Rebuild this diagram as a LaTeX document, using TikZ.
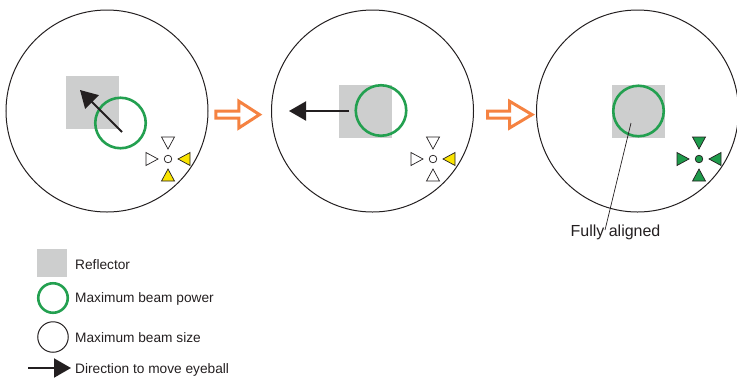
\documentclass[tikz,border=0pt]{standalone}
\usepackage{fontspec}
\setmainfont{Liberation Sans}
\usetikzlibrary{arrows.meta}
\definecolor{refl}{RGB}{205,206,206}
\definecolor{beam}{RGB}{35,160,80}
\definecolor{yel}{RGB}{250,228,0}
\definecolor{okg}{RGB}{30,155,75}
\definecolor{orng}{RGB}{245,130,65}
\definecolor{ink}{RGB}{35,31,32}
\newcommand\indicator[7]{%
  \begin{scope}[shift={(#1,#2)}]
    \draw[tri,fill=#3] (0,-10) -- (-6.5,-22) -- (6.5,-22) -- cycle;
    \draw[tri,fill=#4] (-10,0) -- (-22,-6.5) -- (-22,6.5) -- cycle;
    \draw[tri,fill=#5] (10,0) -- (22,-6.5) -- (22,6.5) -- cycle;
    \draw[tri,fill=#6] (0,10) -- (-6.5,22) -- (6.5,22) -- cycle;
    \draw[tri,fill=#7] (0,0) circle (3.8);
  \end{scope}}
\begin{document}
\begin{tikzpicture}[x=1bp,y=-1bp,
  bigc/.style={circle,draw=ink,line width=1bp,minimum size=202bp,inner sep=0},
  reflbox/.style={fill=refl,minimum size=53bp,inner sep=0},
  beamc/.style={circle,draw=beam,line width=2.6bp,minimum size=50.5bp,inner sep=0},
  move/.style={draw=ink,line width=2bp,-{Triangle[length=17bp,width=19bp]}},
  lbl/.style={text=ink,font=\fontsize{13.7bp}{16bp}\selectfont,anchor=west,inner sep=0},
  hollow/.style={draw=orng,line width=3bp,fill=white,line join=miter},
  tri/.style={draw=ink,line width=0.7bp}
]
\useasboundingbox (0,0) rectangle (737,380);

% panel 1
\node[bigc] (c1) at (107,111) {};
\node[reflbox] (r1) at (92.5,102.5) {};
\node[beamc] (g1) at (120.5,123) {};
\coordinate (a1s) at (122,132);
\coordinate (a1e) at (80,90);
\draw[move] (a1s) -- (a1e);
\indicator{168}{159}{white}{white}{yel}{yel}{white}

% hollow arrow 1
\draw[hollow] (215.8,111) -- (238.8,111) -- (238.8,101.2) -- (259.5,114.6) -- (238.8,128) -- (238.8,118.2) -- (215.8,118.2) -- cycle;

% panel 2
\node[bigc] (c2) at (372.5,111) {};
\node[reflbox] (r2) at (365.5,111) {};
\node[beamc] (g2) at (381,110.5) {};
\coordinate (a2s) at (349,111);
\coordinate (a2e) at (289,111);
\draw[move] (a2s) -- (a2e);
\indicator{433}{159}{white}{white}{yel}{white}{white}

% hollow arrow 2
\draw[hollow] (487.5,111) -- (509.5,111) -- (509.5,101.2) -- (532,114.6) -- (509.5,128) -- (509.5,118.2) -- (487.5,118.2) -- cycle;

% panel 3
\node[bigc] (c3) at (637.5,111) {};
\node[reflbox] (r3) at (638.5,111.5) {};
\node[beamc] (g3) at (638.5,111) {};
\indicator{699}{159}{okg}{okg}{okg}{okg}{okg}
\node[text=ink,font=\fontsize{16bp}{18bp}\selectfont,inner sep=0] (fa) at (615.5,232) {Fully aligned};
\coordinate (fap) at (631,123);
\coordinate (fat) at (605,230);
\draw[ink,line width=0.7bp] (fap) -- (fat);

% legend
\node[fill=refl,minimum width=30bp,minimum height=28bp,inner sep=0] (lr) at (52,263) {};
\node[lbl] (tr) at (75,265) {Reflector};
\node[circle,draw=beam,line width=2.6bp,minimum size=29.5bp,inner sep=0] (lg) at (53,298) {};
\node[lbl] (tg) at (75,299) {Maximum beam power};
\node[circle,draw=ink,line width=1bp,minimum size=30.5bp,inner sep=0] (lb) at (53,337) {};
\node[lbl] (tb) at (75,338) {Maximum beam size};
\coordinate (las) at (28,368);
\coordinate (lae) at (71,368);
\draw[move] (las) -- (lae);
\node[lbl] (ta) at (75,370) {Direction to move eyeball};
\end{tikzpicture}
\end{document}
